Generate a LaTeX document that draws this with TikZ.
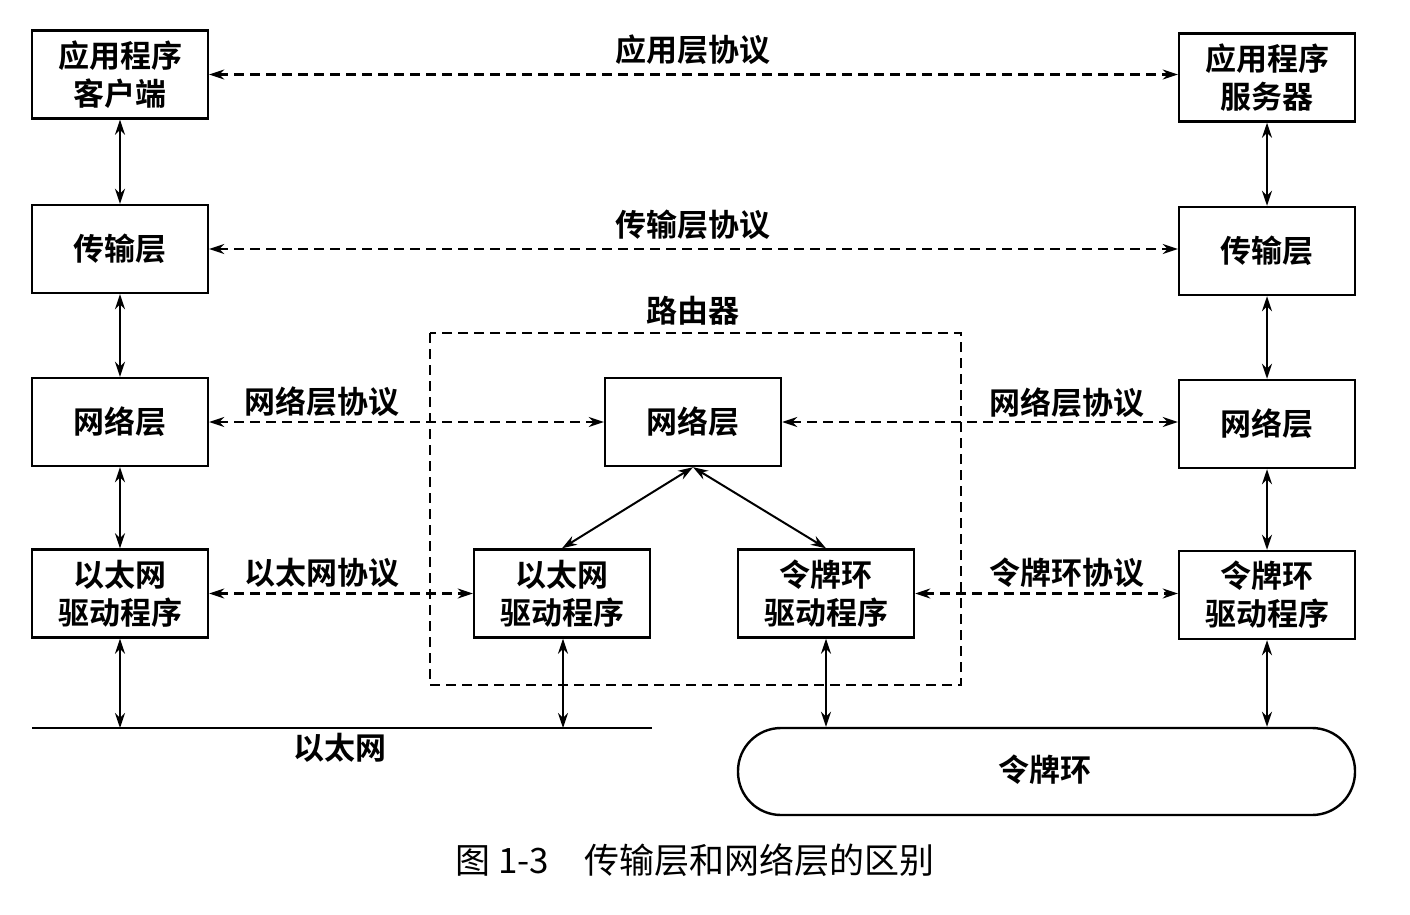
\documentclass[tikz,border=0pt]{standalone}
\usepackage{fontspec}
\newfontfamily\cjk[BoldFont={Noto Sans CJK SC Bold}]{Noto Sans CJK SC}
\usetikzlibrary{arrows.meta}
\begin{document}
\begin{tikzpicture}[x=1pt,y=-1pt,
  font=\cjk\bfseries\fontsize{31}{38}\selectfont,
  box/.style={draw,line width=2.4pt,minimum width=176pt,minimum height=88pt,align=center,inner sep=0pt},
  lbl/.style={inner sep=0pt},
  tip/.style={{Stealth[length=15pt,width=10pt]}-{Stealth[length=15pt,width=10pt]}},
  solidarrow/.style={tip,line width=2pt},
  dasharrow/.style={tip,line width=2.2pt,dash pattern=on 10pt off 6pt},
]
\useasboundingbox (0,0) rectangle (1410,915);
% left stack
\node[box] (appc) at (120,74.5) {应用程序\\客户端};
\node[box] (trl) at (120,249) {传输层};
\node[box] (nwl) at (120,422) {网络层};
\node[box] (ethl) at (120,593.5) {以太网\\驱动程序};
% right stack
\node[box] (apps) at (1267,77.5) {应用程序\\服务器};
\node[box] (trr) at (1267,251) {传输层};
\node[box] (nwr) at (1267,424) {网络层};
\node[box] (tkr) at (1267,595) {令牌环\\驱动程序};
% router
\draw[line width=2.2pt,dash pattern=on 10pt off 6pt] (430,333) rectangle (961,685);
\node[lbl] (rlab) at (693,311) {路由器};
\node[box] (nwm) at (693,422) {网络层};
\node[box] (ethm) at (562,593.5) {以太网\\驱动程序};
\node[box] (tkm) at (826,593.5) {令牌环\\驱动程序};
% ethernet line
\coordinate (ethA) at (32,728);
\coordinate (ethB) at (652,728);
\draw[line width=2.4pt] (ethA) -- (ethB);
\node[lbl] (ethlab) at (340,748) {以太网};
% token ring
\node[draw,line width=2.4pt,rounded corners=43pt,minimum width=617pt,minimum height=87pt,inner sep=0pt] (ring) at (1046.5,771.5) {};
\node[lbl] (ringlab) at (1045,770) {令牌环};
% vertical arrows
\draw[solidarrow] (appc.south) -- (trl.north);
\draw[solidarrow] (trl.south) -- (nwl.north);
\draw[solidarrow] (nwl.south) -- (ethl.north);
\coordinate (e1) at (120,728);
\draw[solidarrow] (ethl.south) -- (e1);
\draw[solidarrow] (apps.south) -- (trr.north);
\draw[solidarrow] (trr.south) -- (nwr.north);
\draw[solidarrow] (nwr.south) -- (tkr.north);
\draw[solidarrow] (tkr.south) -- (ring.north -| tkr.south);
\coordinate (e2) at (563,728);
\draw[solidarrow] (ethm.south -| e2) -- (e2);
\draw[solidarrow] (tkm.south) -- (ring.north -| tkm.south);
% router diagonals
\draw[solidarrow] (nwm.south) -- (ethm.north);
\draw[solidarrow] (nwm.south) -- (tkm.north);
% protocol arrows
\draw[dasharrow] (appc.east) -- (appc.east -| apps.west);
\node[lbl] (p1) at (693,50) {应用层协议};
\draw[dasharrow] (trl.east) -- (trl.east -| trr.west);
\node[lbl] (p2) at (693,225) {传输层协议};
\draw[dasharrow] (nwl.east) -- (nwm.west);
\node[lbl] (p3) at (322,402) {网络层协议};
\draw[dasharrow] (nwm.east) -- (nwm.east -| nwr.west);
\node[lbl] (p4) at (1067,403) {网络层协议};
\draw[dasharrow] (ethl.east) -- (ethm.west);
\node[lbl] (p5) at (322,573) {以太网协议};
\draw[dasharrow] (tkm.east) -- (tkm.east -| tkr.west);
\node[lbl] (p6) at (1067,573) {令牌环协议};
% caption
\node[lbl,font=\cjk\fontsize{35}{40}\selectfont] (cap) at (695,860) {图 1-3\quad 传输层和网络层的区别};
\end{tikzpicture}
\end{document}
